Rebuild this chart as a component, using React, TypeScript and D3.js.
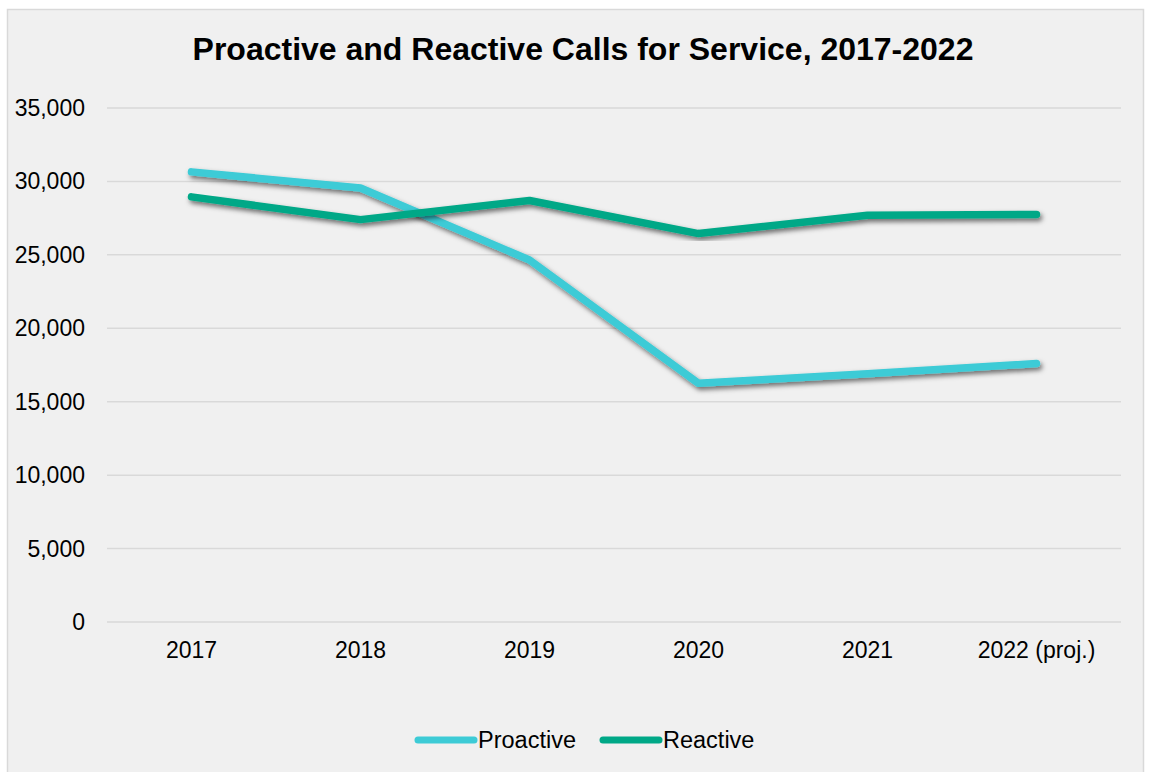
import React from "react";
import * as d3 from "d3";

const categories = ["2017", "2018", "2019", "2020", "2021", "2022 (proj.)"];
const proactive = [30650, 29550, 24650, 16250, 16900, 17600];
const reactive = [28950, 27400, 28700, 26450, 27700, 27750];
const yTicks = [0, 5000, 10000, 15000, 20000, 25000, 30000, 35000];

const series = [
  { name: "Proactive", values: proactive, color: "#3dcbd6" },
  { name: "Reactive", values: reactive, color: "#00a887" },
];

export default function App() {
  const W = 1151, H = 772;
  const left = 107, right = 1121, top = 108, bottom = 622;
  const x = d3.scaleBand<string>().domain(categories).range([left, right]);
  const y = d3.scaleLinear().domain([0, 35000]).range([bottom, top]);
  const fmt = d3.format(",");
  const line = d3
    .line<number>()
    .x((_, i) => (x(categories[i]) as number) + x.bandwidth() / 2)
    .y((v) => y(v));
  const font = "'Liberation Sans', Arial, sans-serif";
  return (
    <svg
      width={W}
      height={H}
      style={{ position: "absolute", left: 0, top: 0, fontFamily: font }}
    >
      <defs>
        <filter id="sh" x="-10%" y="-10%" width="120%" height="130%">
          <feGaussianBlur in="SourceAlpha" stdDeviation="2.5" />
          <feOffset dx="2" dy="3" result="b" />
          <feColorMatrix type="matrix" values="0 0 0 0 0  0 0 0 0 0  0 0 0 0 0  0 0 0 0.55 0" />
          <feMerge>
            <feMergeNode />
            <feMergeNode in="SourceGraphic" />
          </feMerge>
        </filter>
      </defs>
      <rect x={0} y={0} width={W} height={H} fill="#ffffff" />
      <rect x={7.5} y={9.5} width={1136} height={800} fill="#f0f0f0" stroke="#d9d9d9" strokeWidth={1.5} />
      <text x={583} y={60} textAnchor="middle" fontSize={32} fontWeight="bold" fill="#000">
        Proactive and Reactive Calls for Service, 2017-2022
      </text>
      {yTicks.map((t) => (
        <g key={t}>
          <line x1={left} x2={right} y1={y(t)} y2={y(t)} stroke="#d9d9d9" strokeWidth={1.5} />
          <text x={85} y={y(t)} dy="0.35em" textAnchor="end" fontSize={23} fill="#000">
            {fmt(t)}
          </text>
        </g>
      ))}
      {categories.map((c) => (
        <text key={c} x={(x(c) as number) + x.bandwidth() / 2} y={658} textAnchor="middle" fontSize={23} fill="#000">
          {c}
        </text>
      ))}
      {series.map((s) => (
        <path
          key={s.name}
          d={line(s.values) || ""}
          fill="none"
          stroke={s.color}
          strokeWidth={7.5}
          strokeLinecap="round"
          strokeLinejoin="round"
          filter="url(#sh)"
        />
      ))}
      {series.map((s, i) => {
        const lx = i === 0 ? 418 : 603;
        return (
          <g key={s.name}>
            <line x1={lx} x2={lx + 56} y1={740} y2={740} stroke={s.color} strokeWidth={7} strokeLinecap="round" />
            <text x={lx + 60} y={740} dy="0.35em" fontSize={23.5} fill="#000">
              {s.name}
            </text>
          </g>
        );
      })}
    </svg>
  );
}
